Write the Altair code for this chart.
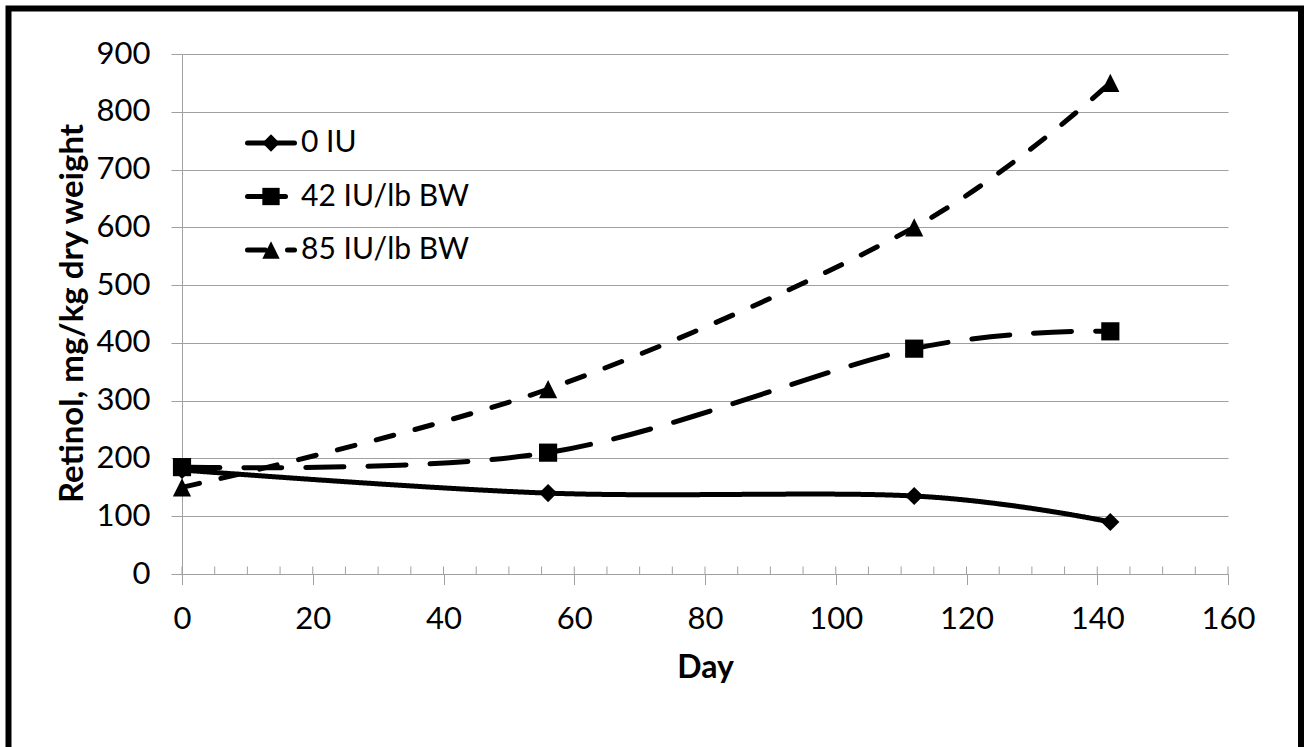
import altair as alt
import pandas as pd

# Sampling days and retinol concentrations (mg/kg dry weight) per treatment
days = [0, 56, 112, 142]
series_names = ["0 IU", "42 IU/lb BW", "85 IU/lb BW"]
retinol_0iu = [180, 140, 135, 90]
retinol_42iu = [185, 210, 390, 420]
retinol_85iu = [150, 320, 600, 850]

x_ticks = [0, 20, 40, 60, 80, 100, 120, 140, 160]
x_minor_ticks = list(range(0, 161, 5))
y_ticks = [0, 100, 200, 300, 400, 500, 600, 700, 800, 900]

rows = []
for name, values in zip(series_names, [retinol_0iu, retinol_42iu, retinol_85iu]):
    for d, v in zip(days, values):
        rows.append({"series": name, "day": d, "retinol": v})
df = pd.DataFrame(rows)

FONT = "Lato"
GRAY = "#a0a0a0"
W, H = 1046, 520

dash_scale = alt.Scale(domain=series_names, range=[[1, 0], [38, 24], [18, 22]])
shape_scale = alt.Scale(domain=series_names,
                        range=["diamond", "square", "M0,-1L1,1L-1,1Z"])

x_enc = alt.X("day:Q", scale=alt.Scale(domain=[0, 160], nice=False),
              axis=alt.Axis(values=x_ticks, title="Day", grid=False,
                            tickSize=10.5, tickColor=GRAY, domainColor=GRAY,
                            labelFont=FONT, labelFontSize=31, labelColor="black",
                            labelBaseline="alphabetic", labelPadding=44,
                            labelFlush=False, labelOverlap=False,
                            titleFont=FONT, titleFontSize=32, titleFontWeight="bold",
                            titleColor="black", titleX=523, titleY=103,
                            titleBaseline="alphabetic", titleAlign="center"))
y_enc = alt.Y("retinol:Q", scale=alt.Scale(domain=[0, 900], nice=False),
              axis=alt.Axis(values=y_ticks, title="Retinol, mg/kg dry weight",
                            grid=True, gridColor=GRAY, tickSize=11, tickColor=GRAY,
                            domainColor=GRAY, labelFont=FONT, labelFontSize=31,
                            labelColor="black", labelPadding=21, labelAlign="right",
                            labelBaseline="middle", labelOverlap=False,
                            titleFont=FONT, titleFontSize=33, titleFontWeight="bold",
                            titleColor="black", titleX=-100, titleY=259,
                            titleBaseline="alphabetic", titleAlign="center",
                            titleAngle=-90))

# Outer frame
frame = alt.Chart(pd.DataFrame({"f": [0]})).mark_rect(
    filled=False, stroke="black", strokeWidth=6
).encode(x=alt.value(-173.5), x2=alt.value(1119),
         y=alt.value(-45.5), y2=alt.value(696))

# Inner tick marks along the x axis
minor = alt.Chart(pd.DataFrame({"day": x_minor_ticks})).mark_rule(
    color=GRAY, strokeWidth=1
).encode(x=alt.X("day:Q"), y=alt.value(H), y2=alt.value(H - 7.5))

lines = alt.Chart(df).mark_line(
    color="black", strokeWidth=5, strokeCap="round", strokeJoin="round",
    interpolate="cardinal"
).encode(
    x=x_enc, y=y_enc,
    strokeDash=alt.StrokeDash("series:N", scale=dash_scale, legend=None),
    detail="series:N",
)

points = alt.Chart(df).mark_point(
    filled=True, color="black", opacity=1, size=330, strokeWidth=0
).encode(
    x="day:Q", y="retinol:Q",
    shape=alt.Shape("series:N", scale=shape_scale, legend=None),
)

# Legend drawn inside the plot area
leg_base = alt.Chart(pd.DataFrame({"series": series_names})).transform_window(
    idx="row_number()"
).transform_calculate(ly="89 + (datum.idx - 1) * 53.5")

leg_lines = leg_base.mark_rule(strokeWidth=5, strokeCap="round", color="black").encode(
    x=alt.value(65.5), x2=alt.value(112.5),
    y=alt.Y("ly:Q", scale=None, axis=None),
    strokeDash=alt.StrokeDash("series:N", scale=dash_scale, legend=None),
)
leg_points = leg_base.mark_point(
    filled=True, color="black", opacity=1, size=300, strokeWidth=0
).encode(
    x=alt.value(89),
    y=alt.Y("ly:Q", scale=None, axis=None),
    shape=alt.Shape("series:N", scale=shape_scale, legend=None),
)
leg_text = leg_base.mark_text(
    align="left", baseline="middle", font=FONT, fontSize=30, color="black"
).encode(
    x=alt.value(119),
    y=alt.Y("ly:Q", scale=None, axis=None),
    text="series:N",
)

chart = alt.layer(
    frame, minor, lines, points, leg_lines, leg_points, leg_text
).properties(
    width=W, height=H,
    autosize=alt.AutoSizeParams(type="none"),
    padding={"left": 182, "top": 54, "right": 76, "bottom": 173},
    background="white",
).configure_view(stroke=None)

chart.save("out.html", embed_options={"renderer": "svg", "actions": False})
